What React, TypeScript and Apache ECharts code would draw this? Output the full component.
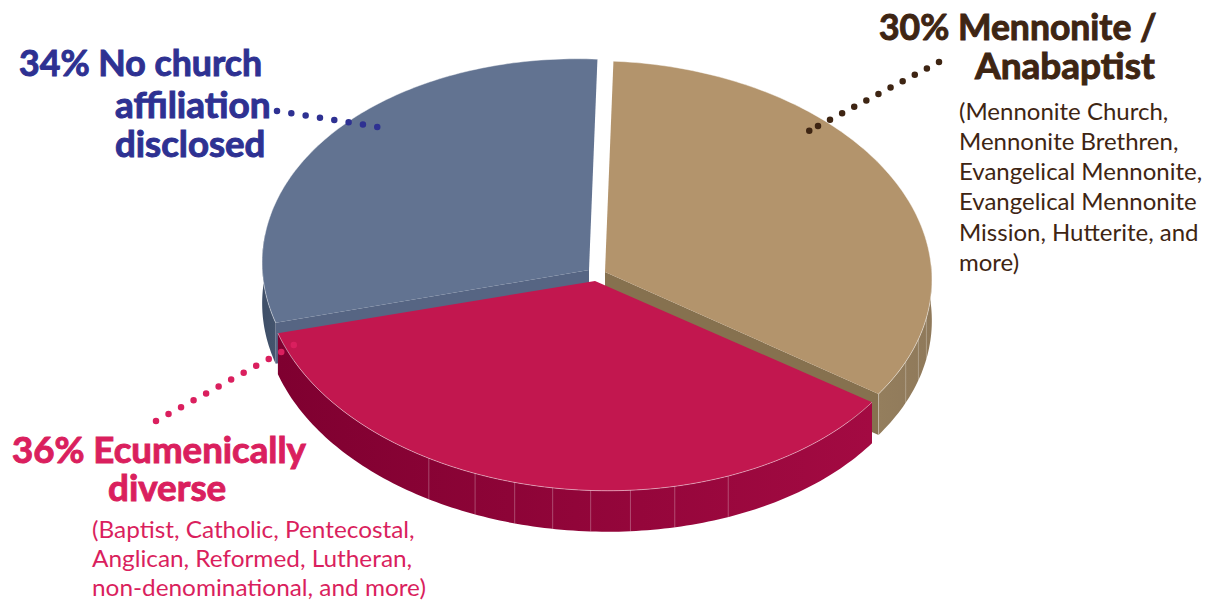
import React, { useEffect, useRef } from "react";
import * as echarts from "echarts";

// Slices in clockwise order from 12 o'clock.
const categories = ["Mennonite / Anabaptist", "Ecumenically diverse", "No church affiliation disclosed"];
const shares = [30, 36, 34];

const mennoniteHead = ["30% Mennonite /", "Anabaptist"];
const mennoniteDetail = [
  "(Mennonite Church,",
  "Mennonite Brethren,",
  "Evangelical Mennonite,",
  "Evangelical Mennonite",
  "Mission, Hutterite, and",
  "more)",
];
const noChurchHead = ["34% No church", "affiliation", "disclosed"];
const ecumenicalHead = ["36% Ecumenically", "diverse"];
const ecumenicalDetail = [
  "(Baptist, Catholic, Pentecostal,",
  "Anglican, Reformed, Lutheran,",
  "non-denominational, and more)",
];

const TILT = 0.04;
const DEPTH = 41;
const DEG = Math.PI / 180;

type SliceLook = {
  apex: [number, number];
  rx: number;
  ry: number;
  top: string;
  cut: string;
  rim: string[];
  seams: number[];
  z: number;
};

const looks: SliceLook[] = [
  { apex: [605, 272], rx: 327, ry: 211, top: "#b3946c", cut: "#86714f", rim: ["#8f795a", "#947e5d"], seams: [9, 15, 21.6], z: 1 },
  {
    apex: [595, 281],
    rx: 331,
    ry: 209.5,
    top: "#c2174f",
    cut: "#85002f",
    rim: ["#a30a42", "#7f0030"],
    seams: [64.8, 74.6, 82.4, 89.3, 95.9, 102.6, 109.8, 118.7],
    z: 5,
  },
  { apex: [589, 270], rx: 327, ry: 211, top: "#627391", cut: "#566583", rim: ["#44546d", "#3f4f68"], seams: [], z: 1 },
];

// The disc is seen from the side, which foreshortens the turn: an angle around
// the disc lands a little further clockwise on the drawn ellipse.
function viewAngle(turn: number) {
  const r = turn * DEG;
  return turn + 9.84 * (1 - Math.cos(r)) + 0.86 * Math.sin(r) - 90;
}

function onEllipse(look: SliceLook, deg: number, drop = 0): [number, number] {
  const t = deg * DEG;
  const ex = look.rx * Math.cos(t);
  const ey = look.ry * Math.sin(t);
  return [
    look.apex[0] + ex * Math.cos(TILT) - ey * Math.sin(TILT),
    look.apex[1] + ex * Math.sin(TILT) + ey * Math.cos(TILT) + drop,
  ];
}

function arc(look: SliceLook, from: number, to: number, drop = 0) {
  const pts: [number, number][] = [];
  const n = Math.max(2, Math.ceil(Math.abs(to - from)));
  for (let i = 0; i <= n; i++) pts.push(onEllipse(look, from + ((to - from) * i) / n, drop));
  return pts;
}

const total = shares.reduce((a, b) => a + b, 0);
const turnStarts = shares.map((_, i) => (shares.slice(0, i).reduce((a, b) => a + b, 0) / total) * 360);

function wall(look: SliceLook, from: number, to: number, z2: number) {
  const fill = new echarts.graphic.LinearGradient(0, 0, 1, 0, [
    { offset: 0, color: look.rim[1] },
    { offset: 1, color: look.rim[0] },
  ]);
  return {
    type: "polygon",
    z2,
    shape: { points: [...arc(look, from, to), ...arc(look, to, from, DEPTH)] },
    style: { fill },
  };
}

function renderSlice(params: any, api: any) {
  const i = params.dataIndex;
  const look = looks[i];
  const share = api.value(0);
  const startTurn = turnStarts[i];
  const from = viewAngle(startTurn);
  const to = viewAngle(startTurn + (share / total) * 360);
  const apex = look.apex;
  const edgeA = onEllipse(look, from);
  const edgeB = onEllipse(look, to);
  const z2 = look.z;
  const children: any[] = [];

  // Outer wall: only the part of the rim that faces the viewer.
  if (i === 2) {
    children.push(wall(look, from, from + 24, z2));
  } else {
    children.push(wall(look, Math.max(from, -6), Math.min(to, 186), z2));
  }

  // Cut face below the radial edge that looks towards the viewer.
  if (i !== 1) {
    const cutEdge = i === 0 ? edgeB : edgeA;
    children.push({
      type: "polygon",
      z2,
      shape: {
        points: [apex, cutEdge, [cutEdge[0], cutEdge[1] + DEPTH], [apex[0], apex[1] + DEPTH]],
      },
      style: { fill: look.cut },
    });
  }

  // Top face.
  children.push({
    type: "polygon",
    z2: z2 + 1,
    shape: { points: [apex, ...arc(look, from, to)] },
    style: { fill: look.top },
  });

  // Thin highlight along the rim.
  children.push({
    type: "polyline",
    z2: z2 + 2,
    shape: { points: arc(look, from, to) },
    style: { fill: "none", stroke: "rgba(255,255,255,0.55)", lineWidth: 0.8 },
  });

  // Vertical seams on the wall.
  for (const deg of look.seams) {
    const a = onEllipse(look, deg);
    children.push({
      type: "line",
      z2: z2 + 2,
      shape: { x1: a[0], y1: a[1], x2: a[0], y2: a[1] + DEPTH },
      style: { stroke: "rgba(255,255,255,0.28)", lineWidth: 1 },
    });
  }
  if (i === 0) {
    children.push({
      type: "line",
      z2: z2 + 2,
      shape: { x1: edgeB[0], y1: edgeB[1], x2: edgeB[0], y2: edgeB[1] + DEPTH },
      style: { stroke: "rgba(255,255,255,0.3)", lineWidth: 1 },
    });
  }
  return { type: "group", children };
}

const FONT = "Lato, sans-serif";
const HEAD = 37;
const BODY = 24;

function line(text: string, x: number, baseline: number, size: number, bold: boolean, color: string, scaleX: number) {
  return {
    type: "text",
    z: 20,
    x,
    y: baseline - size * 0.36,
    scaleX,
    style: {
      text,
      fontFamily: FONT,
      fontSize: size,
      fontWeight: bold ? "700" : "400",
      fill: color,
      stroke: bold ? color : "none",
      lineWidth: bold ? 1 : 0,
      textAlign: "left",
      verticalAlign: "middle",
    },
  };
}

function dotted(x1: number, y1: number, x2: number, y2: number, color: string, gap: number) {
  return {
    type: "line",
    z: 15,
    shape: { x1, y1, x2, y2 },
    style: { stroke: color, lineWidth: 6.5, lineCap: "round", lineDash: [0, gap] },
  };
}

const BROWN = "#3e2513";
const NAVY = "#2e3192";
const CRIMSON = "#da1f5e";

export default function App() {
  const ref = useRef<HTMLDivElement>(null);

  useEffect(() => {
    const chart = echarts.init(ref.current!, undefined, { renderer: "svg" });
    const graphic: any[] = [
      dotted(939, 62, 818, 126, BROWN, 13.7),
      dotted(818, 126, 809, 131, BROWN, 10),
      dotted(277, 111, 378, 127, NAVY, 14.5),
      dotted(156, 421, 294, 345, CRIMSON, 14.3),
      line(mennoniteHead[0], 879, 39.5, HEAD, true, BROWN, 0.96),
      line(mennoniteHead[1], 975, 78, HEAD, true, BROWN, 1.0),
      ...mennoniteDetail.map((t, k) => line(t, 959, 119 + k * 30.2, BODY, false, BROWN, 1.0)),
      line(noChurchHead[0], 19, 75, HEAD, true, NAVY, 0.965),
      line(noChurchHead[1], 115, 116.5, HEAD, true, NAVY, 1.0),
      line(noChurchHead[2], 115, 156, HEAD, true, NAVY, 0.99),
      line(ecumenicalHead[0], 12, 462, HEAD, true, CRIMSON, 0.99),
      line(ecumenicalHead[1], 108, 500.5, HEAD, true, CRIMSON, 0.995),
      ...ecumenicalDetail.map((t, k) => line(t, 92, 537 + k * 29, BODY, false, CRIMSON, 1.015)),
    ];
    chart.setOption({
      animation: false,
      backgroundColor: "#ffffff",
      graphic: { elements: graphic },
      series: [
        {
          type: "custom",
          coordinateSystem: "none",
          renderItem: renderSlice,
          silent: true,
          data: shares.map((v, i) => ({ name: categories[i], value: [v] })),
        },
      ],
    });
    return () => chart.dispose();
  }, []);

  return <div ref={ref} style={{ position: "absolute", left: 0, top: 0, width: 1211, height: 601 }} />;
}
